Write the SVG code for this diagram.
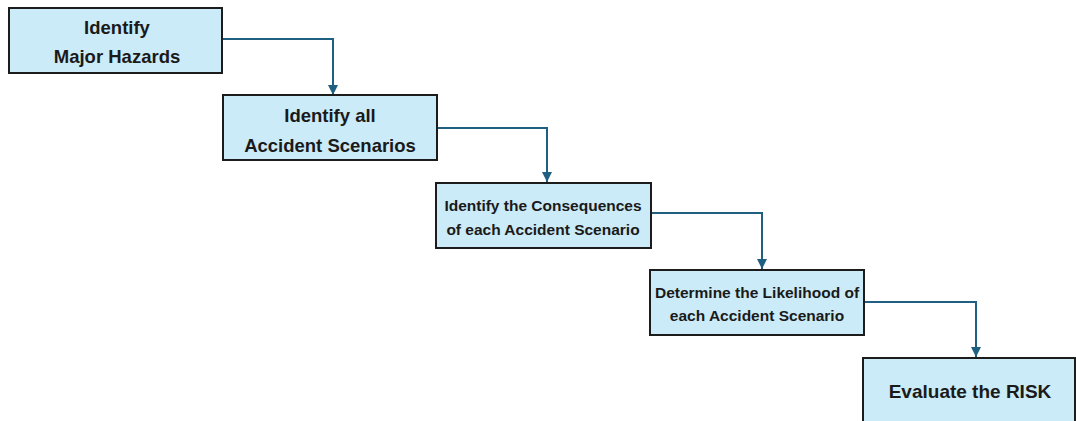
<svg xmlns="http://www.w3.org/2000/svg" width="1076" height="421" viewBox="0 0 1076 421">
<style>
.box{fill:#cbebf8;stroke:#1c1c1c;stroke-width:2}
.t{font-family:"Liberation Sans",Arial,sans-serif;font-weight:bold;fill:#1a1a1a;text-anchor:middle;dominant-baseline:central}
.l{font-size:18.5px}
.s{font-size:15.5px}
.conn{fill:none;stroke:#1f5f82;stroke-width:2;marker-end:url(#ah)}
</style>
<defs>
<marker id="ah" viewBox="0 0 10 10" refX="10" refY="5" markerWidth="5" markerHeight="5" markerUnits="strokeWidth" orient="auto">
<path d="M0,0 L10,5 L0,10 z" fill="#1f5f82"/>
</marker>
</defs>
<rect width="1076" height="421" fill="#ffffff"/>
<g id="connectors">
<path class="conn" d="M222,39 H333 V95"/>
<path class="conn" d="M437,128 H547 V182"/>
<path class="conn" d="M651,213 H762 V269"/>
<path class="conn" d="M864,302 H976 V357"/>
</g>
<g id="n1">
<rect class="box" x="9" y="8" width="213" height="65"/>
<text class="t l" x="117" y="27">Identify</text>
<text class="t l" x="117" y="56">Major Hazards</text>
</g>
<g id="n2">
<rect class="box" x="223" y="95" width="214" height="65"/>
<text class="t l" x="330" y="115">Identify all</text>
<text class="t l" x="330" y="145">Accident Scenarios</text>
</g>
<g id="n3">
<rect class="box" x="436" y="183" width="215" height="65"/>
<text class="t s" x="543" y="205">Identify the Consequences</text>
<text class="t s" x="543" y="229">of each Accident Scenario</text>
</g>
<g id="n4">
<rect class="box" x="650" y="270" width="214" height="65"/>
<text class="t s" x="757" y="292">Determine the Likelihood of</text>
<text class="t s" x="757" y="315">each Accident Scenario</text>
</g>
<g id="n5">
<rect class="box" x="863" y="358" width="212" height="70"/>
<text class="t" style="font-size:19px" x="970" y="391">Evaluate the RISK</text>
</g>
</svg>
